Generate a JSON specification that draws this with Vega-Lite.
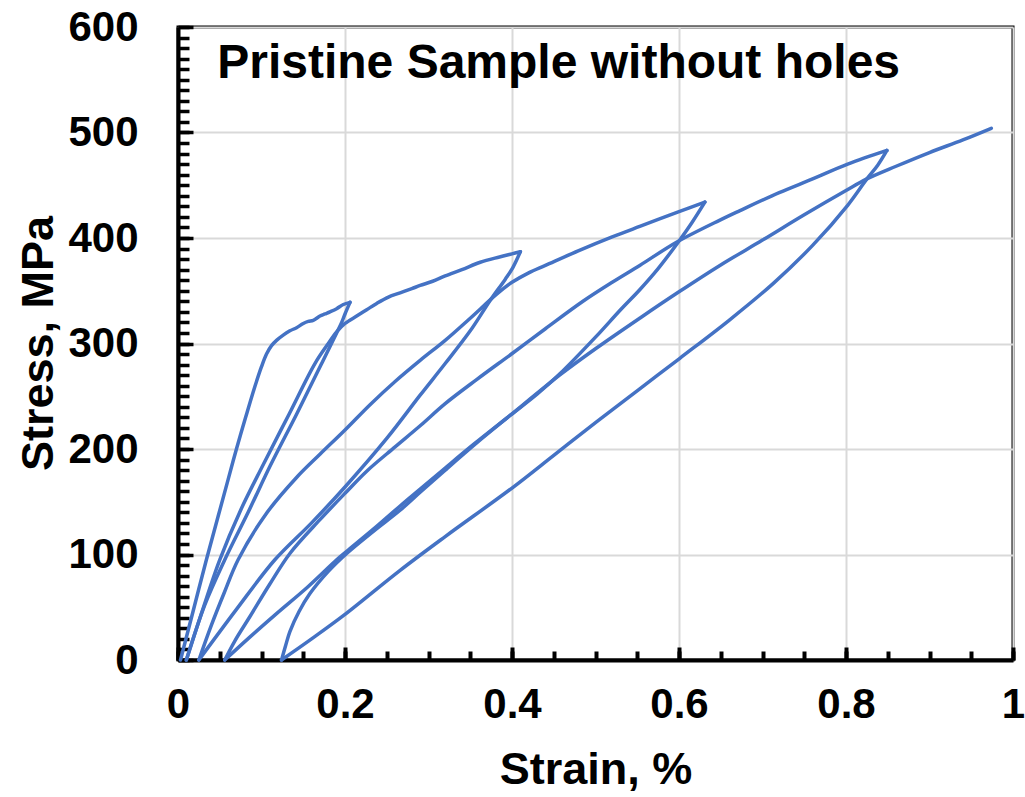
{
  "$schema": "https://vega.github.io/schema/vega-lite/v6.json",
  "width": 835,
  "height": 633,
  "autosize": "none",
  "padding": {"left": 178, "top": 27, "right": 12, "bottom": 137},
  "background": "white",
  "config": {
    "view": {"stroke": "black", "strokeWidth": 3},
    "font": "Liberation Sans"
  },
  "resolve": {"axis": {"x": "independent", "y": "independent"}},
  "layer": [
    {
      "data": {"values": [
        {"seg":1,"i":1,"strain":0.003,"stress":0},{"seg":1,"i":2,"strain":0.018,"stress":46},{"seg":1,"i":3,"strain":0.034,"stress":95},{"seg":1,"i":4,"strain":0.048,"stress":136},{"seg":1,"i":5,"strain":0.060,"stress":171},{"seg":1,"i":6,"strain":0.070,"stress":200},{"seg":1,"i":7,"strain":0.081,"stress":230},{"seg":1,"i":8,"strain":0.092,"stress":259},{"seg":1,"i":9,"strain":0.100,"stress":278},{"seg":1,"i":10,"strain":0.106,"stress":290},{"seg":1,"i":11,"strain":0.112,"stress":298},{"seg":1,"i":12,"strain":0.118,"stress":303},{"seg":1,"i":13,"strain":0.126,"stress":308},{"seg":1,"i":14,"strain":0.134,"stress":312},{"seg":1,"i":15,"strain":0.142,"stress":315},{"seg":1,"i":16,"strain":0.150,"stress":319},{"seg":1,"i":17,"strain":0.156,"stress":321},{"seg":1,"i":18,"strain":0.162,"stress":322},{"seg":1,"i":19,"strain":0.170,"stress":326},{"seg":1,"i":20,"strain":0.176,"stress":328},{"seg":1,"i":21,"strain":0.182,"stress":330},{"seg":1,"i":22,"strain":0.190,"stress":333},{"seg":1,"i":23,"strain":0.198,"stress":337},{"seg":1,"i":24,"strain":0.206,"stress":339},
        {"seg":2,"i":1,"strain":0.206,"stress":339},{"seg":2,"i":2,"strain":0.200,"stress":328},{"seg":2,"i":3,"strain":0.196,"stress":320},{"seg":2,"i":4,"strain":0.190,"stress":310},{"seg":2,"i":5,"strain":0.172,"stress":281},{"seg":2,"i":6,"strain":0.142,"stress":233},{"seg":2,"i":7,"strain":0.111,"stress":185},{"seg":2,"i":8,"strain":0.084,"stress":140},{"seg":2,"i":9,"strain":0.056,"stress":95},{"seg":2,"i":10,"strain":0.032,"stress":52},{"seg":2,"i":11,"strain":0.010,"stress":0},
        {"seg":3,"i":1,"strain":0.010,"stress":0},{"seg":3,"i":2,"strain":0.028,"stress":44},{"seg":3,"i":3,"strain":0.050,"stress":95},{"seg":3,"i":4,"strain":0.075,"stress":142},{"seg":3,"i":5,"strain":0.102,"stress":185},{"seg":3,"i":6,"strain":0.133,"stress":233},{"seg":3,"i":7,"strain":0.164,"stress":281},{"seg":3,"i":8,"strain":0.180,"stress":300},{"seg":3,"i":9,"strain":0.190,"stress":311},{"seg":3,"i":10,"strain":0.200,"stress":319},{"seg":3,"i":11,"strain":0.214,"stress":326},{"seg":3,"i":12,"strain":0.226,"stress":332},{"seg":3,"i":13,"strain":0.238,"stress":338},{"seg":3,"i":14,"strain":0.252,"stress":344},{"seg":3,"i":15,"strain":0.266,"stress":348},{"seg":3,"i":16,"strain":0.280,"stress":352},{"seg":3,"i":17,"strain":0.290,"stress":355},{"seg":3,"i":18,"strain":0.305,"stress":359},{"seg":3,"i":19,"strain":0.320,"stress":364},{"seg":3,"i":20,"strain":0.340,"stress":370},{"seg":3,"i":21,"strain":0.362,"stress":377},{"seg":3,"i":22,"strain":0.385,"stress":382},{"seg":3,"i":23,"strain":0.400,"stress":385},{"seg":3,"i":24,"strain":0.410,"stress":387},
        {"seg":4,"i":1,"strain":0.410,"stress":387},{"seg":4,"i":2,"strain":0.401,"stress":372},{"seg":4,"i":3,"strain":0.392,"stress":361},{"seg":4,"i":4,"strain":0.374,"stress":341},{"seg":4,"i":5,"strain":0.350,"stress":312},{"seg":4,"i":6,"strain":0.320,"stress":281},{"seg":4,"i":7,"strain":0.290,"stress":251},{"seg":4,"i":8,"strain":0.250,"stress":210},{"seg":4,"i":9,"strain":0.200,"stress":164},{"seg":4,"i":10,"strain":0.160,"stress":130},{"seg":4,"i":11,"strain":0.116,"stress":95},{"seg":4,"i":12,"strain":0.070,"stress":48},{"seg":4,"i":13,"strain":0.025,"stress":0},
        {"seg":5,"i":1,"strain":0.025,"stress":0},{"seg":5,"i":2,"strain":0.040,"stress":33},{"seg":5,"i":3,"strain":0.055,"stress":63},{"seg":5,"i":4,"strain":0.072,"stress":95},{"seg":5,"i":5,"strain":0.105,"stress":138},{"seg":5,"i":6,"strain":0.142,"stress":173},{"seg":5,"i":7,"strain":0.170,"stress":195},{"seg":5,"i":8,"strain":0.200,"stress":218},{"seg":5,"i":9,"strain":0.230,"stress":242},{"seg":5,"i":10,"strain":0.260,"stress":264},{"seg":5,"i":11,"strain":0.290,"stress":284},{"seg":5,"i":12,"strain":0.320,"stress":303},{"seg":5,"i":13,"strain":0.350,"stress":324},{"seg":5,"i":14,"strain":0.382,"stress":347},{"seg":5,"i":15,"strain":0.400,"stress":358},{"seg":5,"i":16,"strain":0.420,"stress":367},{"seg":5,"i":17,"strain":0.440,"stress":374},{"seg":5,"i":18,"strain":0.480,"stress":388},{"seg":5,"i":19,"strain":0.520,"stress":401},{"seg":5,"i":20,"strain":0.553,"stress":411},{"seg":5,"i":21,"strain":0.600,"stress":425},{"seg":5,"i":22,"strain":0.631,"stress":434},
        {"seg":6,"i":1,"strain":0.631,"stress":434},{"seg":6,"i":2,"strain":0.615,"stress":414},{"seg":6,"i":3,"strain":0.599,"stress":396},{"seg":6,"i":4,"strain":0.575,"stress":371},{"seg":6,"i":5,"strain":0.553,"stress":351},{"seg":6,"i":6,"strain":0.530,"stress":332},{"seg":6,"i":7,"strain":0.500,"stress":306},{"seg":6,"i":8,"strain":0.457,"stress":271},{"seg":6,"i":9,"strain":0.430,"stress":252},{"seg":6,"i":10,"strain":0.398,"stress":232},{"seg":6,"i":11,"strain":0.355,"stress":205},{"seg":6,"i":12,"strain":0.320,"stress":182},{"seg":6,"i":13,"strain":0.290,"stress":162},{"seg":6,"i":14,"strain":0.266,"stress":146},{"seg":6,"i":15,"strain":0.234,"stress":124},{"seg":6,"i":16,"strain":0.202,"stress":103},{"seg":6,"i":17,"strain":0.190,"stress":95},{"seg":6,"i":18,"strain":0.155,"stress":69},{"seg":6,"i":19,"strain":0.118,"stress":44},{"seg":6,"i":20,"strain":0.085,"stress":21},{"seg":6,"i":21,"strain":0.056,"stress":0},
        {"seg":7,"i":1,"strain":0.056,"stress":0},{"seg":7,"i":2,"strain":0.068,"stress":18},{"seg":7,"i":3,"strain":0.086,"stress":41},{"seg":7,"i":4,"strain":0.110,"stress":72},{"seg":7,"i":5,"strain":0.134,"stress":101},{"seg":7,"i":6,"strain":0.170,"stress":133},{"seg":7,"i":7,"strain":0.200,"stress":158},{"seg":7,"i":8,"strain":0.226,"stress":179},{"seg":7,"i":9,"strain":0.260,"stress":202},{"seg":7,"i":10,"strain":0.290,"stress":222},{"seg":7,"i":11,"strain":0.320,"stress":243},{"seg":7,"i":12,"strain":0.358,"stress":266},{"seg":7,"i":13,"strain":0.401,"stress":291},{"seg":7,"i":14,"strain":0.440,"stress":314},{"seg":7,"i":15,"strain":0.485,"stress":340},{"seg":7,"i":16,"strain":0.520,"stress":358},{"seg":7,"i":17,"strain":0.553,"stress":374},{"seg":7,"i":18,"strain":0.597,"stress":396},{"seg":7,"i":19,"strain":0.649,"stress":417},{"seg":7,"i":20,"strain":0.673,"stress":426},{"seg":7,"i":21,"strain":0.720,"stress":443},{"seg":7,"i":22,"strain":0.760,"stress":456},{"seg":7,"i":23,"strain":0.802,"stress":470},{"seg":7,"i":24,"strain":0.849,"stress":483},
        {"seg":8,"i":1,"strain":0.849,"stress":483},{"seg":8,"i":2,"strain":0.838,"stress":469},{"seg":8,"i":3,"strain":0.825,"stress":456},{"seg":8,"i":4,"strain":0.802,"stress":431},{"seg":8,"i":5,"strain":0.760,"stress":393},{"seg":8,"i":6,"strain":0.713,"stress":357},{"seg":8,"i":7,"strain":0.660,"stress":322},{"seg":8,"i":8,"strain":0.601,"stress":286},{"seg":8,"i":9,"strain":0.553,"stress":257},{"seg":8,"i":10,"strain":0.500,"stress":225},{"seg":8,"i":11,"strain":0.450,"stress":194},{"seg":8,"i":12,"strain":0.400,"stress":163},{"seg":8,"i":13,"strain":0.320,"stress":117},{"seg":8,"i":14,"strain":0.266,"stress":85},{"seg":8,"i":15,"strain":0.198,"stress":42},{"seg":8,"i":16,"strain":0.160,"stress":20},{"seg":8,"i":17,"strain":0.124,"stress":0},
        {"seg":9,"i":1,"strain":0.124,"stress":0},{"seg":9,"i":2,"strain":0.129,"stress":14},{"seg":9,"i":3,"strain":0.134,"stress":27},{"seg":9,"i":4,"strain":0.145,"stress":46},{"seg":9,"i":5,"strain":0.158,"stress":63},{"seg":9,"i":6,"strain":0.180,"stress":84},{"seg":9,"i":7,"strain":0.202,"stress":101},{"seg":9,"i":8,"strain":0.234,"stress":122},{"seg":9,"i":9,"strain":0.266,"stress":142},{"seg":9,"i":10,"strain":0.290,"stress":159},{"seg":9,"i":11,"strain":0.320,"stress":180},{"seg":9,"i":12,"strain":0.358,"stress":206},{"seg":9,"i":13,"strain":0.398,"stress":232},{"seg":9,"i":14,"strain":0.457,"stress":270},{"seg":9,"i":15,"strain":0.500,"stress":295},{"seg":9,"i":16,"strain":0.553,"stress":324},{"seg":9,"i":17,"strain":0.600,"stress":349},{"seg":9,"i":18,"strain":0.649,"stress":374},{"seg":9,"i":19,"strain":0.700,"stress":398},{"seg":9,"i":20,"strain":0.750,"stress":422},{"seg":9,"i":21,"strain":0.800,"stress":445},{"seg":9,"i":22,"strain":0.825,"stress":456},{"seg":9,"i":23,"strain":0.860,"stress":468},{"seg":9,"i":24,"strain":0.900,"stress":481},{"seg":9,"i":25,"strain":0.940,"stress":493},{"seg":9,"i":26,"strain":0.974,"stress":504}
      ]},
      "mark": {"type": "line", "color": "#4472C4", "strokeWidth": 3.5, "interpolate": "catmull-rom", "strokeCap": "round", "strokeJoin": "round"},
      "encoding": {
        "x": {"field": "strain", "type": "quantitative", "scale": {"domain": [0, 1], "nice": false},
          "axis": {"orient": "bottom", "values": [0, 0.2, 0.4, 0.6, 0.8, 1], "format": "~g", "grid": true, "gridColor": "#d9d9d9", "gridWidth": 2,
            "domain": true, "domainColor": "black", "domainWidth": 4,
            "ticks": true, "tickSize": -13, "tickWidth": 4, "tickColor": "black",
            "labelFont": "Liberation Sans", "labelFontSize": 42, "labelFontWeight": "bold", "labelColor": "black",
            "labelPadding": 70, "labelBaseline": "alphabetic", "labelFlush": false, "labelOverlap": false,
            "title": "Strain, %", "titleFont": "Liberation Sans", "titleFontSize": 45, "titleFontWeight": "bold", "titleColor": "black",
            "titleY": 123, "titleBaseline": "alphabetic"}},
        "y": {"field": "stress", "type": "quantitative", "scale": {"domain": [0, 600], "nice": false},
          "axis": {"orient": "left", "values": [0, 100, 200, 300, 400, 500, 600], "grid": true, "gridColor": "#d9d9d9", "gridWidth": 2,
            "domain": true, "domainColor": "black", "domainWidth": 4,
            "ticks": true, "tickSize": -15, "tickWidth": 3.5, "tickColor": "black",
            "labelFont": "Liberation Sans", "labelFontSize": 42, "labelFontWeight": "bold", "labelColor": "black",
            "labelPadding": 55, "labelBaseline": "middle", "labelFlush": false, "labelOverlap": false,
            "title": "Stress, MPa", "titleFont": "Liberation Sans", "titleFontSize": 45, "titleFontWeight": "bold", "titleColor": "black",
            "titleX": -126, "titleY": 316, "titleBaseline": "alphabetic", "titleAngle": -90}},
        "detail": {"field": "seg", "type": "nominal"},
        "order": {"field": "i", "type": "quantitative"}
      }
    },
    {
      "data": {"values": [{"label": "Pristine Sample without holes"}]},
      "mark": {"type": "text", "font": "Liberation Sans", "fontSize": 48, "fontWeight": "bold", "color": "black", "align": "left", "baseline": "alphabetic"},
      "encoding": {
        "text": {"field": "label", "type": "nominal"},
        "x": {"datum": 0.047, "type": "quantitative", "scale": {"domain": [0, 1], "nice": false},
          "axis": {"orient": "bottom", "values": [0,0.05,0.1,0.15,0.2,0.25,0.3,0.35,0.4,0.45,0.5,0.55,0.6,0.65,0.7,0.75,0.8,0.85,0.9,0.95,1],
            "grid": false, "domain": false, "labels": false, "title": null, "ticks": true, "tickSize": -9, "tickWidth": 4, "tickColor": "black"}},
        "y": {"datum": 552, "type": "quantitative", "scale": {"domain": [0, 600], "nice": false},
          "axis": {"orient": "left", "values": [0,10,20,30,40,50,60,70,80,90,100,110,120,130,140,150,160,170,180,190,200,210,220,230,240,250,260,270,280,290,300,310,320,330,340,350,360,370,380,390,400,410,420,430,440,450,460,470,480,490,500,510,520,530,540,550,560,570,580,590,600],
            "grid": false, "domain": false, "labels": false, "title": null, "ticks": true, "tickSize": -11, "tickWidth": 3.5, "tickColor": "black"}}
      }
    }
  ]
}
